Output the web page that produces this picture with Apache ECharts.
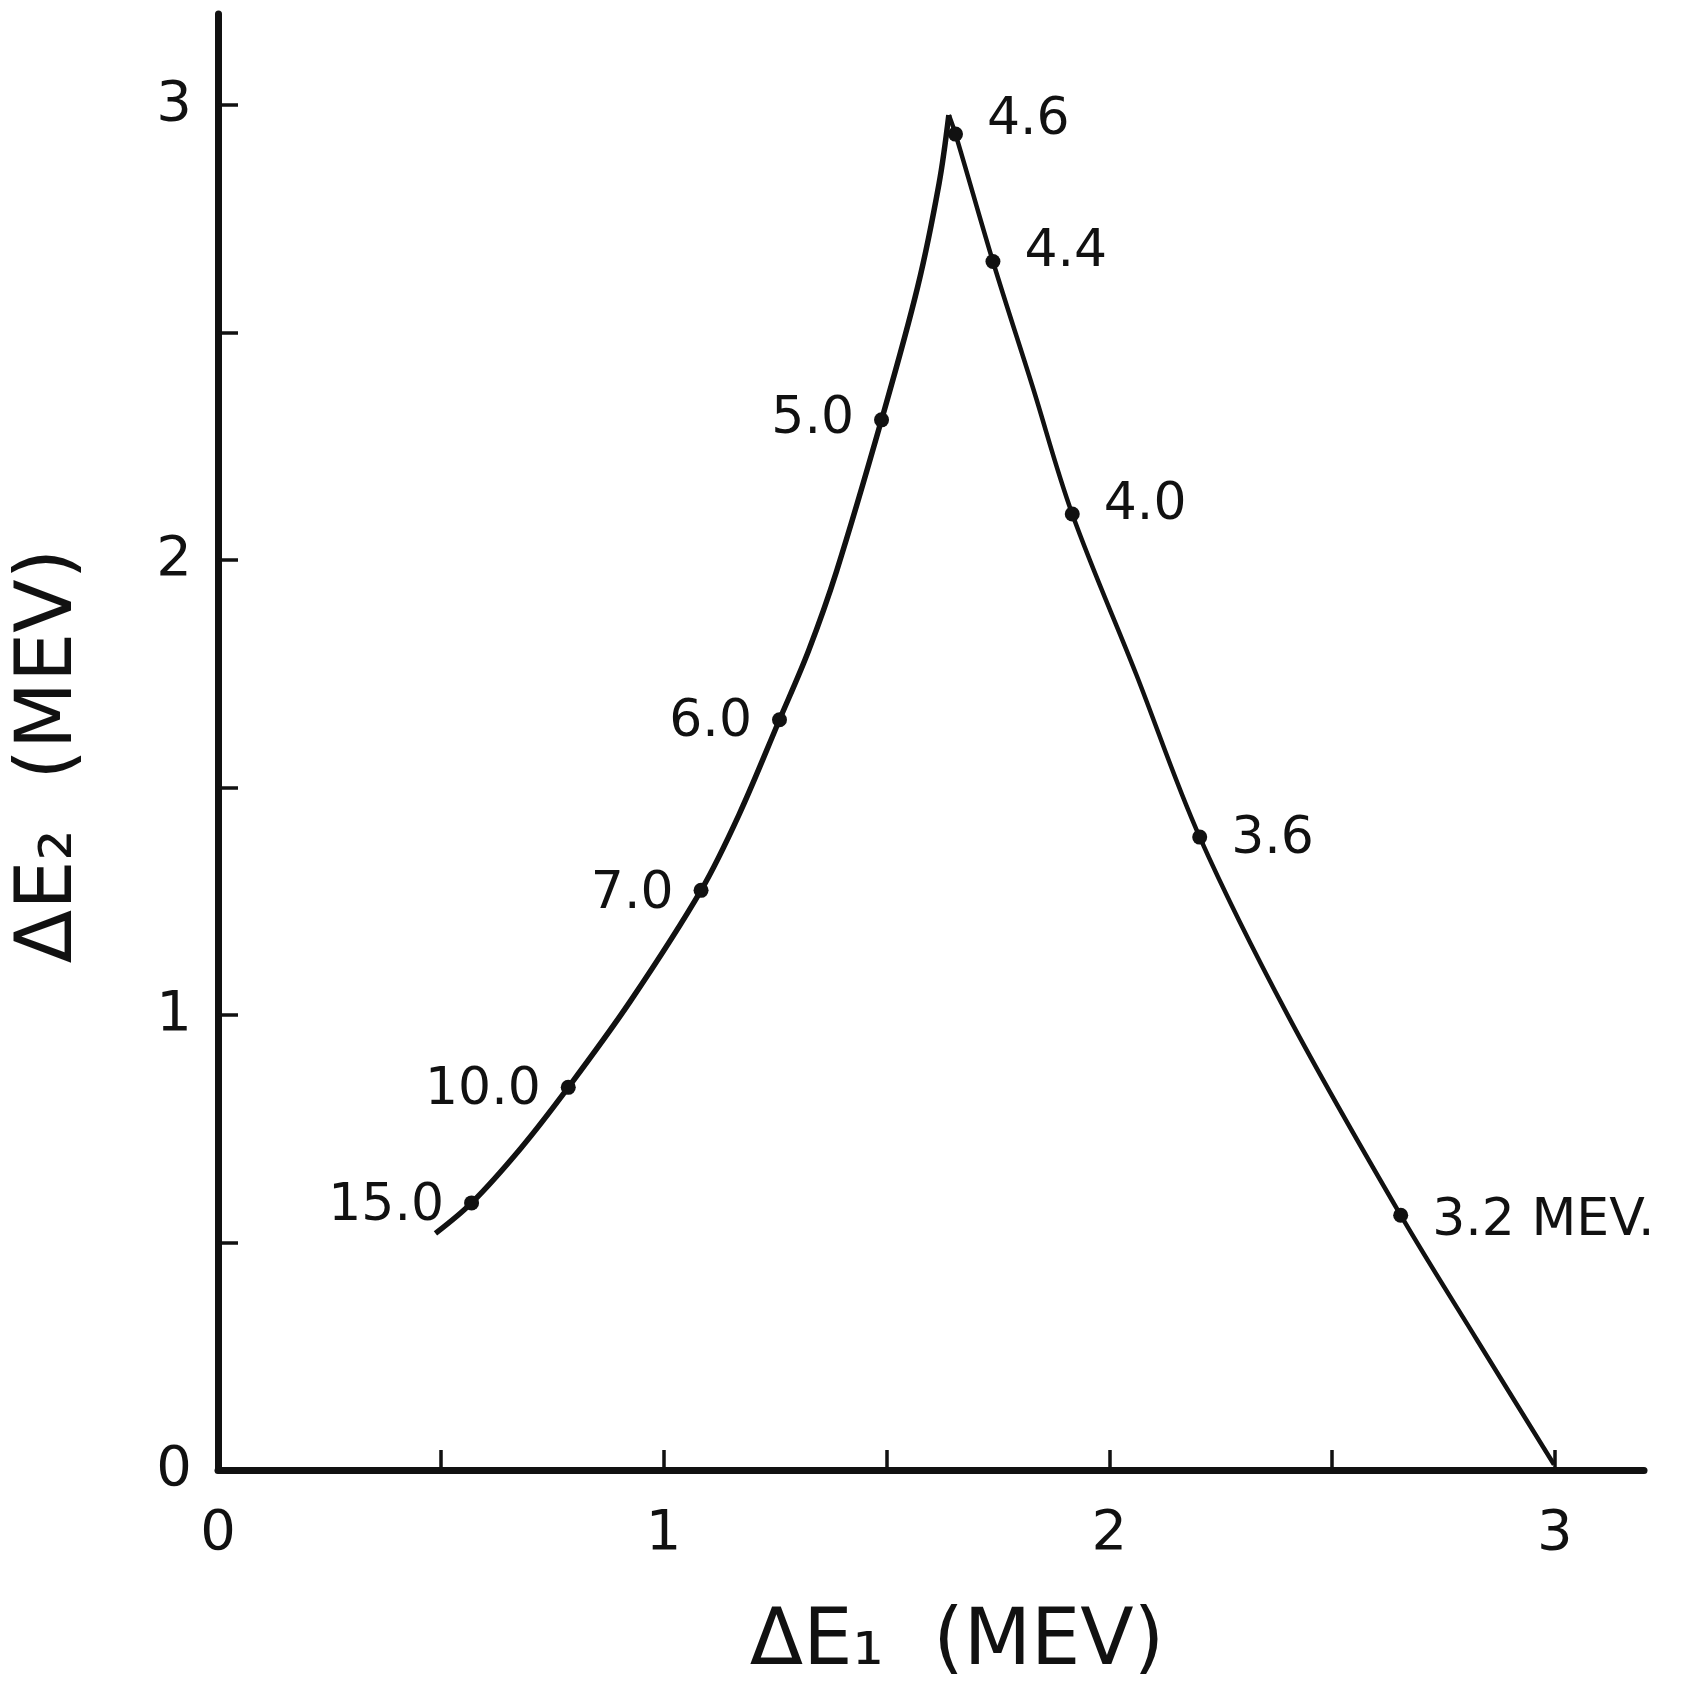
<!DOCTYPE html>
<html>
<head>
<meta charset="utf-8">
<script src="https://cdn.jsdelivr.net/npm/echarts@6/dist/echarts.min.js"></script>
<style>
    html, body { margin: 0; padding: 0; background: #fff; }
    #chart { width: 1696px; height: 1693px; }
</style>
</head>
<body>
<div id="chart"></div>
<script>
// curve, two branches meeting at the cusp
var leftBranchX = [0.488, 0.569, 0.681, 0.786, 0.925, 1.084, 1.169, 1.260, 1.325, 1.388, 1.489, 1.570, 1.618, 1.640];
var leftBranchY = [0.520, 0.587, 0.709, 0.841, 1.030, 1.274, 1.440, 1.649, 1.800, 1.975, 2.308, 2.600, 2.827, 2.978];
var rightBranchX = [1.640, 1.655, 1.739, 1.827, 1.917, 2.060, 2.203, 2.402, 2.654, 2.827, 2.998];
var rightBranchY = [2.978, 2.936, 2.656, 2.384, 2.101, 1.750, 1.391, 0.997, 0.560, 0.283, 0.012];

// marked energies
var leftDotLabels = ['15.0', '10.0', '7.0', '6.0', '5.0'];
var leftDotX = [0.569, 0.786, 1.084, 1.260, 1.489];
var leftDotY = [0.587, 0.841, 1.274, 1.649, 2.308];
var rightDotLabels = ['4.6', '4.4', '4.0', '3.6', '3.2 MEV.'];
var rightDotX = [1.655, 1.739, 1.917, 2.203, 2.654];
var rightDotY = [2.936, 2.656, 2.101, 1.391, 0.560];

var tickValues = [0, 0.5, 1, 1.5, 2, 2.5, 3];
var labelValues = [0, 1, 2, 3];

var FONT = 'DejaVu Sans';
var INK = '#111';
// vertical nudge of each energy label, px
var leftNudge = [4, 3, 4, 3, 0];
var rightNudge = [-14, -9, -9, 2, 6];

function zip(xs, ys) {
    return xs.map((x, i) => [x, ys[i]]);
}

function axis(name, extra) {
    return Object.assign({
        type: 'value',
        name: name,
        nameLocation: 'middle',
        min: 0,
        max: 3.2,
        axisLine: {
            show: true,
            onZero: false,
            lineStyle: {color: INK, width: 7, cap: 'round'}
        },
        axisTick: {
            show: true,
            inside: true,
            length: 20,
            customValues: tickValues,
            lineStyle: {color: INK, width: 3.5}
        },
        splitLine: {show: false}
    }, extra);
}

function dotSeries(xs, ys, labels, nudge, position, distance) {
    return {
        type: 'scatter',
        symbol: 'circle',
        symbolSize: 15,
        itemStyle: {color: INK, opacity: 1},
        data: zip(xs, ys).map((v, i) => ({
            value: v,
            label: {offset: [0, nudge[i]]}
        })),
        label: {
            show: true,
            position: position,
            distance: distance,
            fontFamily: FONT,
            fontSize: 52,
            color: INK,
            opacity: 1,
            formatter: params => labels[params.dataIndex]
        },
        z: 5
    };
}

function branch(xs, ys, width) {
    return {
        type: 'line',
        showSymbol: false,
        smooth: 0.35,
        lineStyle: {color: INK, width: width},
        data: zip(xs, ys)
    };
}

var chart = echarts.init(document.getElementById('chart'));
chart.setOption({
    animation: false,
    backgroundColor: '#fff',
    grid: {
        left: 218,
        top: 14,
        right: 52,
        bottom: 223
    },
    xAxis: axis('ΔE\u2081  (MEV)', {
        nameGap: 135,
        nameTextStyle: {fontFamily: FONT, fontSize: 78, color: INK, padding: [0, 0, 0, 52]},
        axisLabel: {customValues: labelValues, fontFamily: FONT, fontSize: 56, color: INK, margin: 36}
    }),
    yAxis: axis('ΔE\u2082  (MEV)', {
        nameGap: 128,
        nameTextStyle: {fontFamily: FONT, fontSize: 78, color: INK, padding: [0, 28, 0, 0]},
        axisLabel: {customValues: labelValues, fontFamily: FONT, fontSize: 56, color: INK, margin: 26}
    }),
    series: [
        branch(leftBranchX, leftBranchY, 5.5),
        branch(rightBranchX, rightBranchY, 4.5),
        dotSeries(leftDotX, leftDotY, leftDotLabels, leftNudge, 'left', 20),
        dotSeries(rightDotX, rightDotY, rightDotLabels, rightNudge, 'right', 24)
    ]
});
</script>
</body>
</html>
